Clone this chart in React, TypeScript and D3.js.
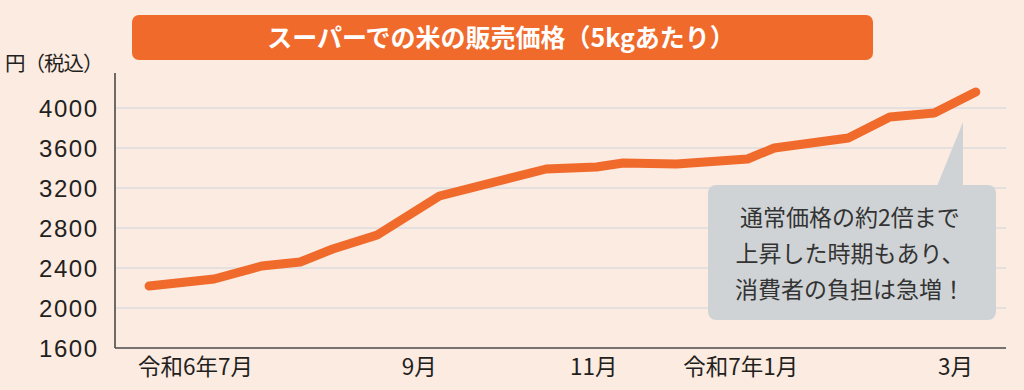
import React, { useEffect, useRef } from 'react';
import * as d3 from 'd3';

// weekly-ish supermarket rice price (yen per 5kg, tax incl.)
const dates = [
  '2024-06-02', '2024-06-24', '2024-07-10', '2024-07-23', '2024-08-03', '2024-08-18',
  '2024-09-08', '2024-10-14', '2024-10-31', '2024-11-09', '2024-11-27', '2024-12-21',
  '2024-12-30', '2025-01-24', '2025-02-07', '2025-02-22', '2025-03-08',
];
const prices = [
  2220, 2290, 2420, 2460, 2590, 2730,
  3120, 3390, 3410, 3450, 3440, 3490,
  3600, 3700, 3910, 3950, 4160,
];
const yTicks = [1600, 2000, 2400, 2800, 3200, 3600, 4000];
const monthTicks = ['2024-07-01', '2024-09-01', '2024-11-01', '2025-01-01', '2025-03-01'];
const monthLabels = ['令和6年7月', '9月', '11月', '令和7年1月', '3月'];
const title = 'スーパーでの米の販売価格（5kgあたり）';
const unitLabel = '円（税込）';
const noteLines = ['通常価格の約2倍まで', '上昇した時期もあり、', '消費者の負担は急増！'];

const JP = '"Noto Sans CJK JP", "Noto Sans", sans-serif';
const NUM = '"Liberation Sans", Arial, sans-serif';

function App() {
  const ref = useRef<SVGSVGElement>(null);

  useEffect(() => {
    const W = 1024, H = 390;
    const svg = d3.select(ref.current);
    svg.selectAll('*').remove();
    svg.attr('width', W).attr('height', H);

    svg.append('rect').attr('width', W).attr('height', H).attr('fill', '#fcebe1');

    const parse = d3.timeParse('%Y-%m-%d');
    const data = dates.map((d, i) => ({ date: parse(d) as Date, value: prices[i] }));

    const left = 115, right = 1006, top = 73, bottom = 348;

    const x = d3.scaleTime()
      .domain([parse('2024-07-01') as Date, parse('2025-03-01') as Date])
      .range([235, 955]);
    const y = d3.scaleLinear().domain([1600, 4350]).range([bottom, top]);

    // title banner
    svg.append('rect')
      .attr('x', 132).attr('y', 15).attr('width', 741).attr('height', 45)
      .attr('rx', 7).attr('fill', '#f06a2c');
    svg.append('text')
      .attr('x', 501).attr('y', 47)
      .attr('text-anchor', 'middle')
      .attr('fill', '#fff')
      .style('font-family', JP)
      .style('font-weight', 'bold')
      .style('font-size', '25px')
      .text(title);

    // grid
    svg.append('g')
      .selectAll('line')
      .data(yTicks.filter(t => t > 1600))
      .enter()
      .append('line')
      .attr('x1', left).attr('x2', right)
      .attr('y1', d => y(d)).attr('y2', d => y(d))
      .attr('stroke', '#dcdcdf')
      .attr('stroke-width', 1.5);

    // y labels
    svg.append('g')
      .selectAll('text')
      .data(yTicks)
      .enter()
      .append('text')
      .attr('x', 98.5)
      .attr('y', d => y(d) + 8.5)
      .attr('text-anchor', 'end')
      .attr('fill', '#231f20')
      .style('font-family', NUM)
      .style('font-size', '24px')
      .style('letter-spacing', '1.5px')
      .text(d => d);

    svg.append('text')
      .attr('x', 5).attr('y', 71)
      .attr('fill', '#231f20')
      .style('font-family', JP)
      .style('font-size', '20.5px')
      .style('letter-spacing', '-1px')
      .text(unitLabel);

    // axes lines
    svg.append('line')
      .attr('x1', left).attr('x2', left).attr('y1', top).attr('y2', bottom)
      .attr('stroke', '#4a4a4a').attr('stroke-width', 1.6);
    svg.append('line')
      .attr('x1', left).attr('x2', right).attr('y1', bottom).attr('y2', bottom)
      .attr('stroke', '#4a4a4a').attr('stroke-width', 1.6);

    // x labels
    svg.append('g')
      .selectAll('text')
      .data(monthTicks)
      .enter()
      .append('text')
      .attr('x', d => x(parse(d) as Date) + 18)
      .attr('y', 375)
      .attr('text-anchor', 'end')
      .attr('fill', '#231f20')
      .style('font-family', JP)
      .style('font-size', '22.5px')
      .text((d, i) => monthLabels[i]);

    // price line
    const line = d3.line<{ date: Date; value: number }>()
      .x(d => x(d.date))
      .y(d => y(d.value));
    svg.append('path')
      .datum(data)
      .attr('d', line)
      .attr('fill', 'none')
      .attr('stroke', '#f06a2c')
      .attr('stroke-width', 9)
      .attr('stroke-linecap', 'round')
      .attr('stroke-linejoin', 'round');

    // callout
    const note = svg.append('g');
    note.append('rect')
      .attr('x', 708).attr('y', 185).attr('width', 288).attr('height', 135)
      .attr('rx', 8).attr('fill', '#d0d3d6');
    note.append('path')
      .attr('d', 'M937,186 L963,122 L963,186 Z')
      .attr('fill', '#d0d3d6');
    note.selectAll('text')
      .data(noteLines)
      .enter()
      .append('text')
      .attr('x', 850)
      .attr('y', (d, i) => 226 + i * 36)
      .attr('text-anchor', 'middle')
      .attr('fill', '#333')
      .style('font-family', JP)
      .style('font-size', '23px')
      .text(d => d);
  }, []);

  return (
    <div style={{ position: 'fixed', left: 0, top: 0 }}>
      <svg ref={ref} style={{ display: 'block' }}></svg>
    </div>
  );
}

export default App;
